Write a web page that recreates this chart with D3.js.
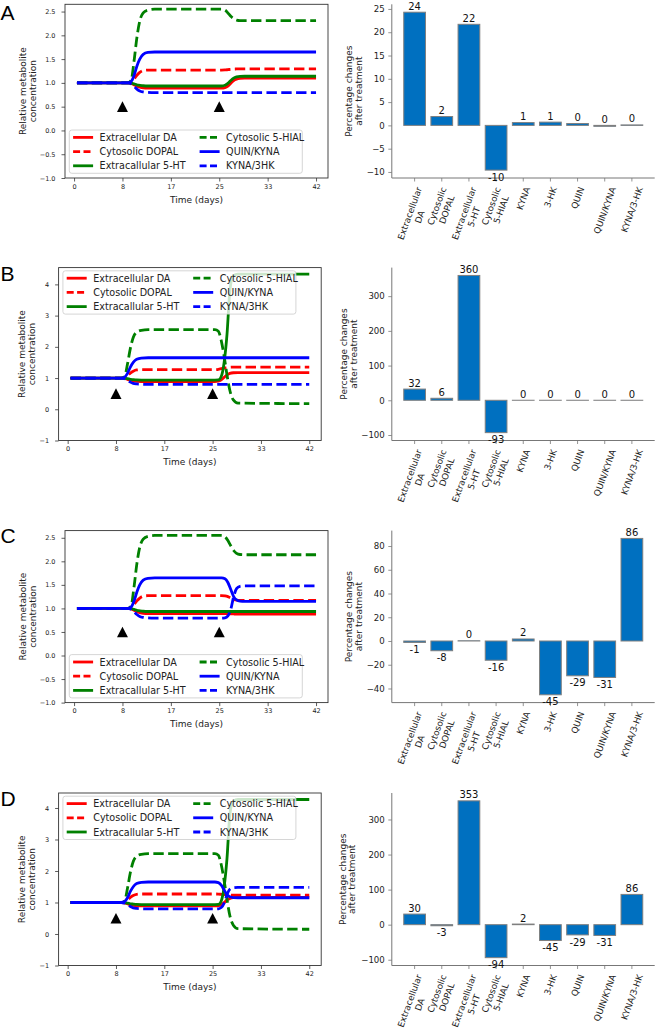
<!DOCTYPE html>
<html><head><meta charset="utf-8">
<script src="https://cdn.jsdelivr.net/npm/d3@7"></script>
<style>
body{margin:0;background:#fff}
svg{display:block}
text{font-family:"DejaVu Sans",sans-serif}
</style></head>
<body><svg id="c" width="656" height="1030"></svg>
<script>
// ---------------- DATA ----------------
const seriesNames = ["Extracellular DA","Cytosolic DOPAL","Extracallular 5-HT","Cytosolic 5-HIAL","QUIN/KYNA","KYNA/3HK"];
const lineTimes = [0.5, 9.3, 9.9, 10.4, 10.9, 11.4, 12.0, 12.8, 14.0, 25.6, 26.2, 26.7, 27.2, 27.7, 28.2, 28.8, 29.6, 42];
const timeTickPos = [0, 8.4, 16.8, 25.2, 33.6, 42];
const timeTickLabels = ["0","8","17","25","33","42"];
const treatmentTimes = [8.4, 25.2];
const treatmentMarkerLevel = 0.5;

// Panel A
const A_DA    = [1,1,0.99,0.96,0.93,0.91,0.895,0.89,0.89, 0.89,0.9,0.93,0.99,1.05,1.08,1.095,1.1,1.1];
const A_DOPAL = [1,1,1.02,1.08,1.16,1.22,1.26,1.27,1.27, 1.27,1.272,1.278,1.285,1.29,1.293,1.295,1.295,1.295];
const A_5HT   = [1,1,0.995,0.98,0.96,0.95,0.94,0.935,0.935, 0.935,0.95,0.99,1.05,1.1,1.125,1.138,1.14,1.14];
const A_5HIAL = [1,1,1.05,1.45,1.95,2.3,2.47,2.53,2.55, 2.55,2.53,2.47,2.4,2.35,2.32,2.31,2.31,2.31];
const A_QK    = [1,1,1.03,1.15,1.35,1.5,1.6,1.64,1.65, 1.65,1.65,1.65,1.65,1.65,1.65,1.65,1.65,1.65];
const A_K3    = [1,1,0.98,0.93,0.87,0.83,0.81,0.8,0.795, 0.795,0.795,0.795,0.795,0.795,0.795,0.795,0.795,0.795];
// Panel B
const B_DA    = [1,1,0.99,0.96,0.93,0.91,0.895,0.89,0.89, 0.89,0.9,0.94,1.02,1.1,1.15,1.17,1.175,1.175];
const B_DOPAL = [1,1,1.02,1.08,1.16,1.22,1.26,1.27,1.27, 1.27,1.28,1.3,1.32,1.34,1.345,1.35,1.35,1.35];
const B_5HT   = [1,1,0.995,0.98,0.96,0.95,0.94,0.935,0.935, 0.935,0.94,1.05,1.5,2.4,3.8,4.28,4.33,4.33];
const B_5HIAL = [1,1,1.05,1.45,1.95,2.3,2.47,2.53,2.55, 2.55,2.5,2.2,1.7,1.1,0.6,0.3,0.2,0.18];
const B_QK    = [1,1,1.03,1.15,1.35,1.5,1.6,1.64,1.65, 1.65,1.65,1.65,1.65,1.65,1.65,1.65,1.65,1.65];
const B_K3    = [1,1,0.98,0.93,0.87,0.83,0.81,0.8,0.795, 0.795,0.795,0.795,0.795,0.795,0.795,0.795,0.795,0.795];
// Panel C
const C_DA    = [1,1,0.99,0.96,0.93,0.91,0.895,0.89,0.89, 0.89,0.89,0.888,0.885,0.882,0.88,0.88,0.88,0.88];
const C_DOPAL = [1,1,1.02,1.08,1.16,1.22,1.26,1.27,1.27, 1.27,1.265,1.25,1.22,1.19,1.175,1.17,1.17,1.17];
const C_5HT   = [1,1,0.995,0.98,0.96,0.95,0.94,0.935,0.935, 0.935,0.935,0.935,0.935,0.935,0.935,0.935,0.935,0.935];
const C_5HIAL = [1,1,1.05,1.45,1.95,2.3,2.47,2.53,2.55, 2.55,2.52,2.44,2.33,2.23,2.17,2.145,2.14,2.14];
const C_QK    = [1,1,1.03,1.15,1.35,1.5,1.6,1.64,1.65, 1.65,1.63,1.55,1.4,1.25,1.18,1.155,1.15,1.15];
const C_K3    = [1,1,0.98,0.93,0.87,0.83,0.81,0.8,0.795, 0.795,0.8,0.84,0.98,1.25,1.42,1.47,1.48,1.48];
// Panel D
const D_DA    = [1,1,0.99,0.96,0.93,0.91,0.895,0.89,0.89, 0.89,0.9,0.93,1.0,1.08,1.13,1.155,1.16,1.16];
const D_DOPAL = [1,1,1.02,1.08,1.16,1.22,1.26,1.27,1.27, 1.27,1.268,1.26,1.25,1.24,1.235,1.232,1.23,1.23];
const D_5HT   = [1,1,0.995,0.98,0.96,0.95,0.94,0.935,0.935, 0.935,0.94,1.05,1.5,2.4,3.8,4.22,4.27,4.27];
const D_5HIAL = [1,1,1.05,1.45,1.95,2.3,2.47,2.53,2.55, 2.55,2.5,2.2,1.7,1.1,0.58,0.28,0.17,0.15];
const D_QK    = [1,1,1.03,1.15,1.35,1.5,1.6,1.64,1.65, 1.65,1.63,1.55,1.4,1.25,1.18,1.155,1.15,1.15];
const D_K3    = [1,1,0.98,0.93,0.87,0.83,0.81,0.8,0.795, 0.795,0.8,0.84,0.98,1.25,1.42,1.47,1.48,1.48];

const lineTicksSmall = [-1.0,-0.5,0.0,0.5,1.0,1.5,2.0,2.5];
const lineTicksLarge = [-1,0,1,2,3,4];

const barCategories = ["Extracellular\nDA","Cytosolic\nDOPAL","Extracellular\n5-HT","Cytosolic\n5-HIAL","KYNA","3-HK","QUIN","QUIN/KYNA","KYNA/3-HK"];
const barA = [24.3, 1.9, 21.7, -9.6, 0.6, 0.7, 0.4, -0.2, 0.1];
const barB = [32.3, 5.8, 359.6, -93.2, 0.1, 0.1, 0.1, 0.1, 0.1];
const barC = [-1.2, -8.2, 0.2, -16.2, 1.7, -45.3, -29.3, -30.7, 86.4];
const barD = [30.2, -3.1, 353.2, -94.1, 1.7, -45.2, -29.2, -30.7, 86.3];
const barTicksA = [-10,-5,0,5,10,15,20,25];
const barTicksB = [-100,0,100,200,300];
const barTicksC = [-40,-20,0,20,40,60,80];
const barTicksD = [-100,0,100,200,300];

// ---------------- STYLE / LAYOUT ----------------
const seriesColor = ["#ff0000","#ff0000","#008000","#008000","#0000ff","#0000ff"];
const seriesDashed = [false,true,false,true,false,true];
const LW = 2.8, DASH = "10.4,4.4";
const frameColor = "#333", textColor = "#222";

const panels = [
  {letter:"A", letterY:20,  top:4.3,   bottom:178,   lLeft:65,   lRight:328,   series:[A_DA,A_DOPAL,A_5HT,A_5HIAL,A_QK,A_K3], yTicks:lineTicksSmall, yFmt:d3.format(".1f"), legend:"lower", ylabX:[22.7,32.3], bars:barA, bTicks:barTicksA, bylabX:[349,358.3]},
  {letter:"B", letterY:280.5, top:267.6, bottom:440.5, lLeft:58.6, lRight:321.2, series:[B_DA,B_DOPAL,B_5HT,B_5HIAL,B_QK,B_K3], yTicks:lineTicksLarge, yFmt:d3.format("d"), legend:"upper", ylabX:[21.7,31.7], bars:barB, bTicks:barTicksB, bylabX:[343.3,353.3]},
  {letter:"C", letterY:543, top:530.6, bottom:702.6, lLeft:65,   lRight:328,   series:[C_DA,C_DOPAL,C_5HT,C_5HIAL,C_QK,C_K3], yTicks:lineTicksSmall, yFmt:d3.format(".1f"), legend:"lower", ylabX:[22.7,32.3], bars:barC, bTicks:barTicksC, bylabX:[349,358.3]},
  {letter:"D", letterY:806, top:793,   bottom:965.5, lLeft:58.6, lRight:321.2, series:[D_DA,D_DOPAL,D_5HT,D_5HIAL,D_QK,D_K3], yTicks:lineTicksLarge, yFmt:d3.format("d"), legend:"upper", ylabX:[21.7,31.7], bars:barD, bTicks:barTicksD, bylabX:[342.3,351.7]}
];
const barLeft = 391.8, barRight = 654.7;

const svg = d3.select("#c");

panels.forEach(p => {
  svg.append("text").attr("x",0.5).attr("y",p.letterY)
    .style("font-family",'"Liberation Sans",Arial,sans-serif').style("font-size","21px").attr("fill","#000").text(p.letter);

  // ---------- line chart ----------
  const tMin = d3.min(lineTimes), tMax = d3.max(lineTimes), tr = tMax - tMin;
  const x = d3.scaleLinear().domain([tMin-0.05*tr, tMax+0.05*tr]).range([p.lLeft, p.lRight]);
  const allV = p.series.flat().concat([treatmentMarkerLevel]);
  const vMax = d3.max(allV), vMin = d3.min(allV);
  const y = d3.scaleLinear().domain([-1, vMax + 0.05*(vMax - vMin)]).range([p.bottom, p.top]);

  const g = svg.append("g");
  const clipId = "clip"+p.letter;
  g.append("clipPath").attr("id",clipId).append("rect")
    .attr("x",p.lLeft).attr("y",p.top).attr("width",p.lRight-p.lLeft).attr("height",p.bottom-p.top);

  const line = d3.line().x(d=>x(d[0])).y(d=>y(d[1])).curve(d3.curveMonotoneX);
  const lg = g.append("g").attr("clip-path",`url(#${clipId})`);
  p.series.forEach((vals,i) => {
    const pts = lineTimes.map((t,k)=>[t, vals[k]]);
    lg.append("path").attr("d", line(pts)).attr("fill","none")
      .attr("stroke",seriesColor[i]).attr("stroke-width",LW)
      .attr("stroke-dasharray", seriesDashed[i] ? DASH : null);
  });
  treatmentTimes.forEach(t => {
    const cx = x(t), cy = y(treatmentMarkerLevel);
    lg.append("path").attr("d", `M${cx},${cy-5.3}L${cx+5.5},${cy+5.3}L${cx-5.5},${cy+5.3}Z`).attr("fill","#000");
  });

  const xAxis = d3.axisBottom(x).tickValues(timeTickPos).tickFormat((d,i)=>timeTickLabels[i]).tickSize(3.5).tickPadding(2.5);
  const gx = g.append("g").attr("transform",`translate(0,${p.bottom})`).call(xAxis);
  const yAxis = d3.axisLeft(y).tickValues(p.yTicks).tickFormat(p.yFmt).tickSize(3.5).tickPadding(6);
  const gy = g.append("g").attr("transform",`translate(${p.lLeft},0)`).call(yAxis);
  [gx,gy].forEach(ax=>{
    ax.select(".domain").remove();
    ax.selectAll(".tick line").attr("stroke",frameColor).attr("stroke-width",0.8);
    ax.selectAll(".tick text").attr("fill",textColor).style("font-size","6.5px").style("font-family",'"DejaVu Sans",sans-serif');
  });
  g.append("rect").attr("x",p.lLeft).attr("y",p.top).attr("width",p.lRight-p.lLeft).attr("height",p.bottom-p.top)
    .attr("fill","none").attr("stroke",frameColor).attr("stroke-width",0.9);

  g.append("text").attr("x",(p.lLeft+p.lRight)/2).attr("y",p.bottom+24.5).attr("text-anchor","middle")
    .style("font-size","9px").attr("fill",textColor).text("Time (days)");
  const ymid = (p.top+p.bottom)/2;
  ["Relative metabolite","concentration"].forEach((s,i)=>{
    g.append("text").attr("transform",`translate(${p.ylabX[i]+3.2},${ymid}) rotate(-90)`)
      .attr("text-anchor","middle").style("font-size","9px").attr("fill",textColor).text(s);
  });

  // legend
  const LWd = 233, LH = 43.3;
  const lx = p.lLeft + 4.3;
  const ly = p.legend === "lower" ? p.bottom - 4.7 - LH : p.top + 3.2;
  const leg = g.append("g");
  leg.append("rect").attr("x",lx).attr("y",ly).attr("width",LWd).attr("height",LH).attr("rx",2.5)
    .attr("fill","#fff").attr("fill-opacity",0.8).attr("stroke","#cccccc").attr("stroke-width",0.8);
  seriesNames.forEach((name,i)=>{
    const col = Math.floor(i/3), row = i%3;
    const hx = lx + 3.8 + col*126.5, hy = ly + 7.4 + row*14.2;
    leg.append("line").attr("x1",hx).attr("x2",hx+20).attr("y1",hy).attr("y2",hy)
      .attr("stroke",seriesColor[i]).attr("stroke-width",LW)
      .attr("stroke-dasharray", seriesDashed[i] ? "7,3.4" : null);
    leg.append("text").attr("x",hx+26.5).attr("y",hy+3.5).style("font-size","9.6px").attr("fill",textColor).text(name);
  });

  // ---------- bar chart ----------
  const n = barCategories.length;
  const bx = d3.scaleLinear().domain([-0.4-0.05*(n-0.2), n-0.6+0.05*(n-0.2)]).range([barLeft, barRight]);
  const bMax = Math.max(0, d3.max(p.bars)), bMin = Math.min(0, d3.min(p.bars)), br = bMax - bMin;
  const by = d3.scaleLinear().domain([bMin-0.05*br, bMax+0.05*br]).range([p.bottom, p.top]);
  const bg = svg.append("g");
  const bw = bx(0.8) - bx(0);
  bg.selectAll("rect.bar").data(p.bars).enter().append("rect").attr("class","bar")
    .attr("x",(d,i)=>bx(i-0.4)).attr("width",bw)
    .attr("y",d=>by(Math.max(0,d))).attr("height",d=>Math.abs(by(d)-by(0)))
    .attr("fill","#0070c0").attr("stroke","#7f7f7f").attr("stroke-width",1);

  const byAxis = d3.axisLeft(by).tickValues(p.bTicks).tickFormat(d3.format("d")).tickSize(3.5).tickPadding(3.5);
  const gby = bg.append("g").attr("transform",`translate(${barLeft},0)`).call(byAxis);
  gby.select(".domain").attr("stroke","#777").attr("stroke-width",1).attr("d",`M0,${p.bottom}V${p.top}`);
  gby.selectAll(".tick line").attr("stroke","#777").attr("stroke-width",0.8);
  gby.selectAll(".tick text").attr("fill",textColor).style("font-size","8.6px").style("font-family",'"DejaVu Sans",sans-serif');
  bg.append("line").attr("x1",barLeft).attr("x2",barRight).attr("y1",p.bottom).attr("y2",p.bottom)
    .attr("stroke","#777").attr("stroke-width",1);
  barCategories.forEach((c,i)=>{
    bg.append("line").attr("x1",bx(i)).attr("x2",bx(i)).attr("y1",p.bottom).attr("y2",p.bottom+3.5)
      .attr("stroke","#777").attr("stroke-width",0.8);
    const lines = c.split("\n");
    const fs = 8.8, lh = fs*1.2;
    const tg = bg.append("g");
    const t = tg.append("text").attr("text-anchor","middle").style("font-size",fs+"px").attr("fill",textColor);
    lines.forEach((s,k)=>{
      t.append("tspan").attr("x",0).attr("y", (k - (lines.length-1)/2)*lh + fs*0.36).text(s);
    });
    let w = 0;
    t.selectAll("tspan").each(function(){ w = Math.max(w, this.getComputedTextLength()); });
    const h = lines.length*lh;
    const th = 70*Math.PI/180;
    const bbH = w*Math.sin(th) + h*Math.cos(th);
    tg.attr("transform",`translate(${bx(i)},${p.bottom+7.5+bbH/2}) rotate(-70)`);
  });
  p.bars.forEach((v,i)=>{
    let r = Math.round(v); if (r === 0) r = 0;
    const above = r >= 0;
    bg.append("text").attr("x",bx(i)).attr("y", above ? by(Math.max(v,0))-2.5 : by(v)+10.6)
      .attr("text-anchor","middle").style("font-size","10px").attr("fill","#111").text(String(r));
  });
  ["Percentage changes","after treatment"].forEach((s,i)=>{
    bg.append("text").attr("transform",`translate(${p.bylabX[i]+3.2},${ymid}) rotate(-90)`)
      .attr("text-anchor","middle").style("font-size","9px").attr("fill",textColor).text(s);
  });
});
</script></body></html>
